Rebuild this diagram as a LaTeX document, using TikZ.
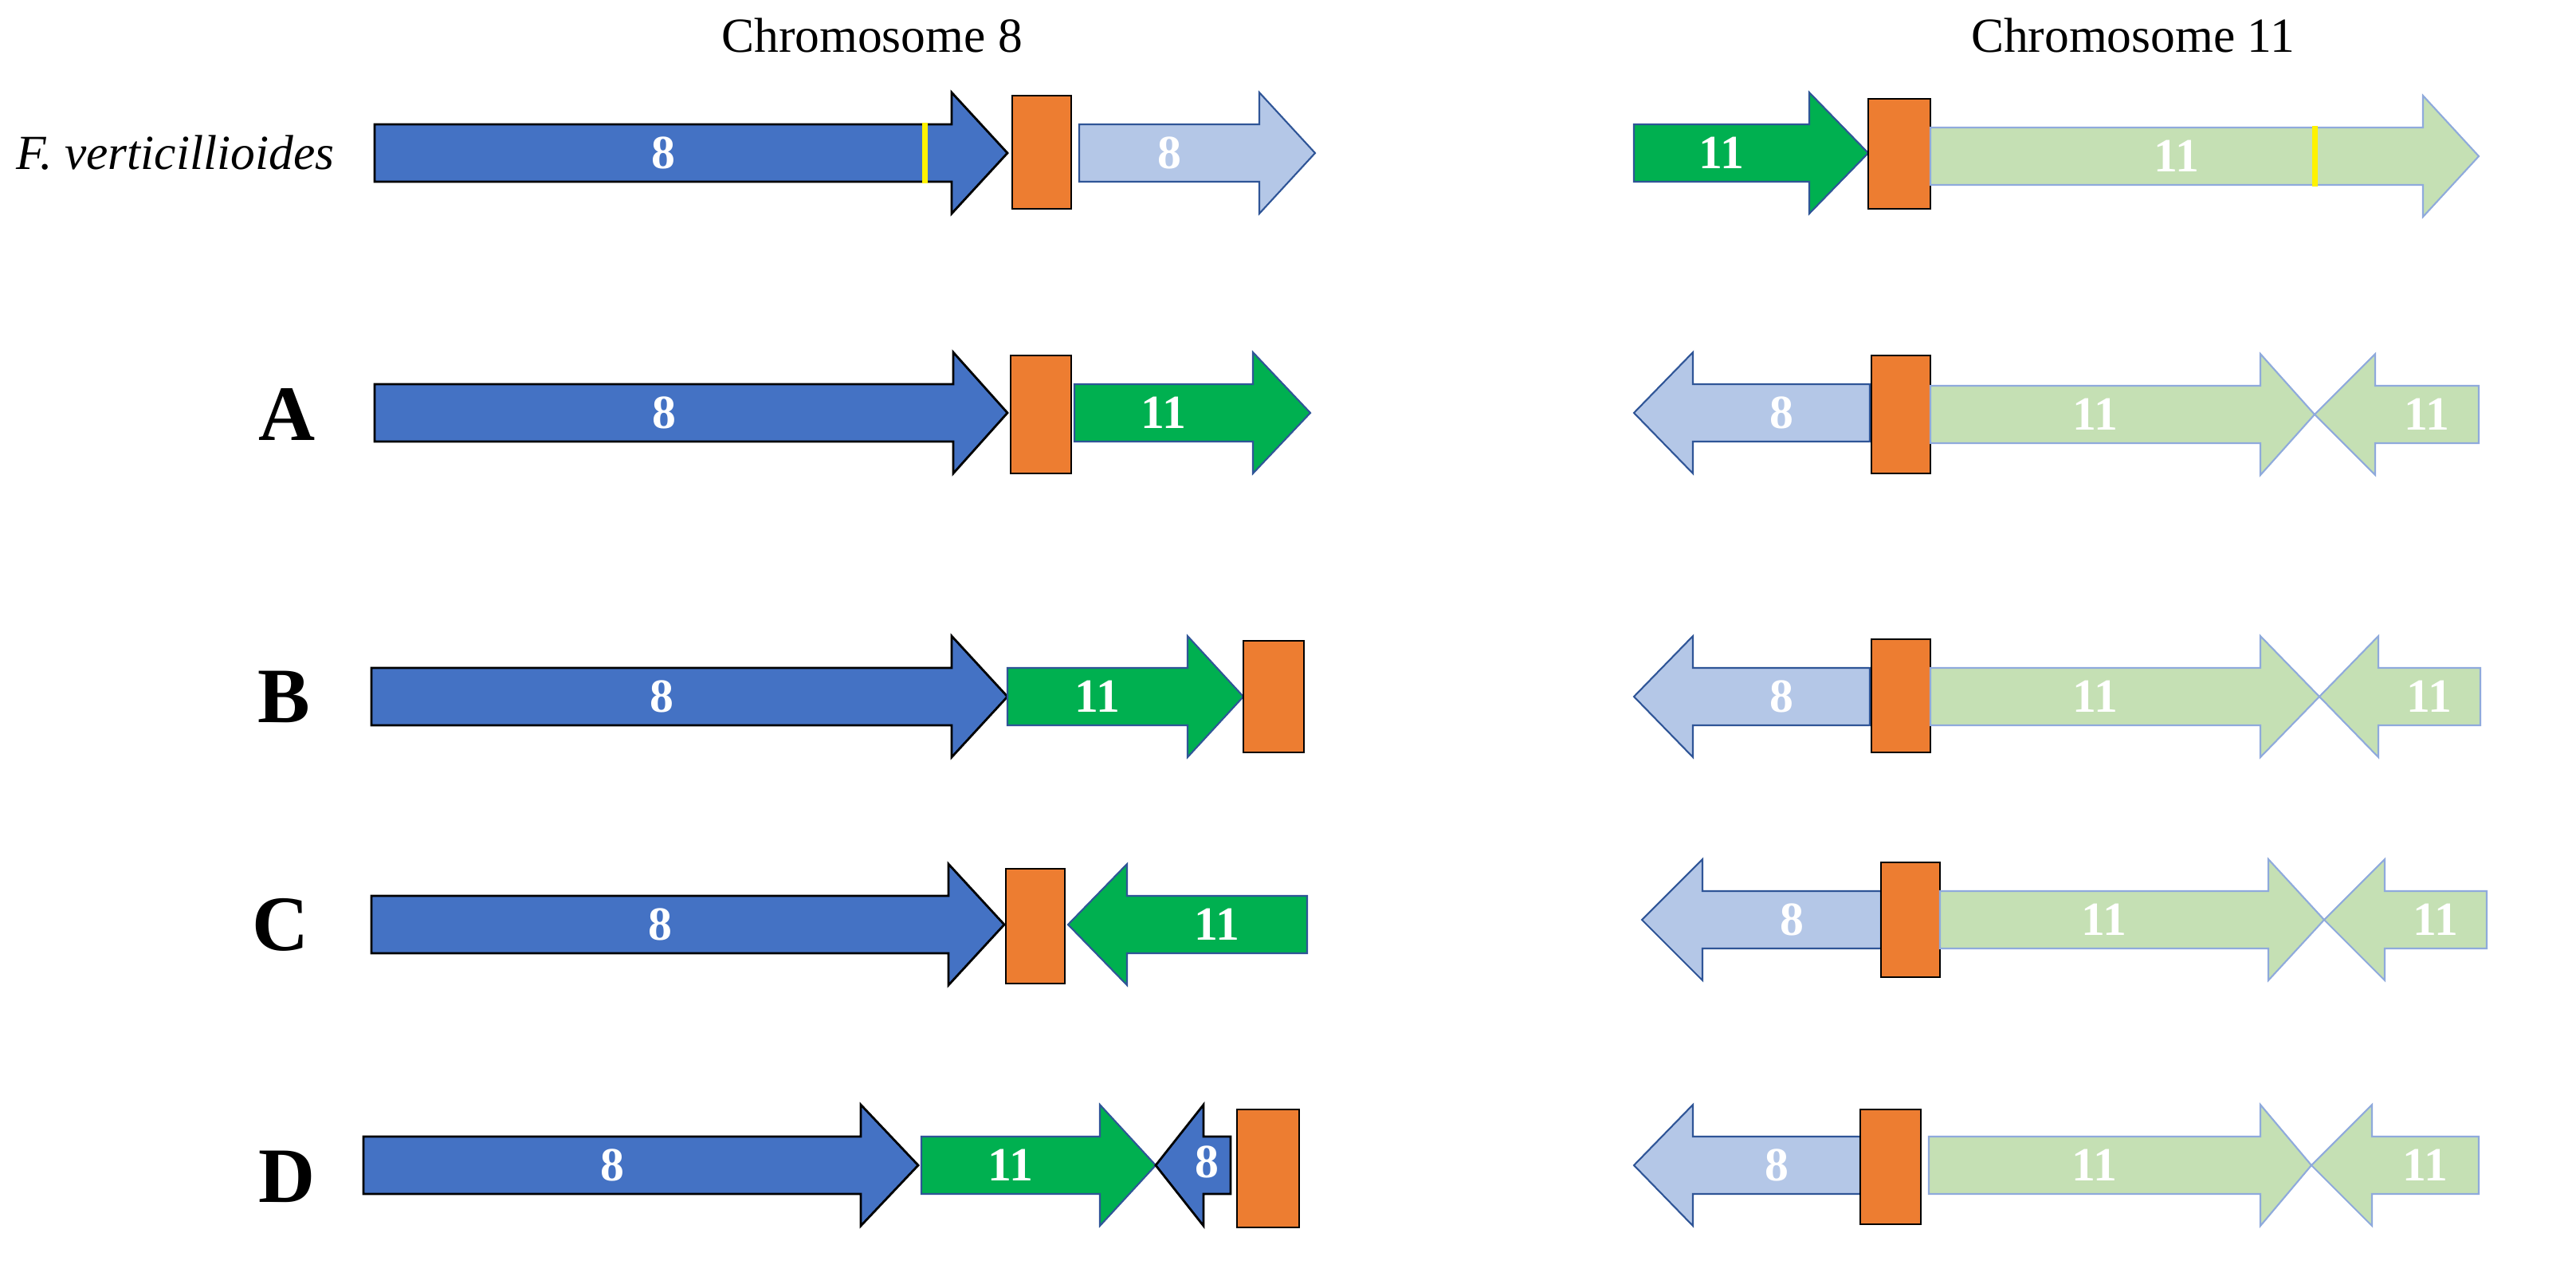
\documentclass[tikz,border=0pt]{standalone}
\usepackage{fontspec}
\setmainfont{Liberation Serif}
\definecolor{dblue}{HTML}{4472C4}
\definecolor{lblue}{HTML}{B4C7E7}
\definecolor{dgreen}{HTML}{00B050}
\definecolor{lgreen}{HTML}{C5E0B4}
\definecolor{orng}{HTML}{ED7D31}
\definecolor{edgeb}{HTML}{2F5597}
\definecolor{edgel}{HTML}{8FAADC}
\begin{document}
\begin{tikzpicture}[x=0.02cm,y=-0.02cm,
  darkb/.style={fill=dblue,draw=black,line width=0.8pt},
  lightb/.style={fill=lblue,draw=edgeb,line width=0.6pt},
  darkg/.style={fill=dgreen,draw=edgeb,line width=0.6pt},
  lightg/.style={fill=lgreen,draw=edgel,line width=0.6pt},
  box/.style={fill=orng,draw=black,line width=0.8pt},
  num/.style={text=white,font=\fontsize{17}{17}\selectfont\bfseries},
  lab/.style={font=\fontsize{28}{28}\selectfont\bfseries},
  ttl/.style={font=\fontsize{17.5}{17.5}\selectfont}]
\useasboundingbox (0,0) rectangle (1616,807.5);
% right arrow: #1 style, #2 x0, #3 body end, #4 tip, #5 yc, #6 label, #7 name
\newcommand{\rar}[7]{\draw[#1] (#2,#5-18) -- (#3,#5-18) -- (#3,#5-38) -- (#4,#5) -- (#3,#5+38) -- (#3,#5+18) -- (#2,#5+18) -- cycle;
  \node[num] (#7) at ({(#2+#3)/2},#5) {#6};}
% left arrow: #2 tip, #3 head base, #4 body end
\newcommand{\lar}[7]{\draw[#1] (#4,#5-18) -- (#3,#5-18) -- (#3,#5-38) -- (#2,#5) -- (#3,#5+38) -- (#3,#5+18) -- (#4,#5+18) -- cycle;
  \node[num] (#7) at ({(#3+#4)/2},#5) {#6};}
\newcommand{\obox}[5]{\node[box,minimum width={(#2-#1)*0.02cm},minimum height={(#4-#3)*0.02cm},inner sep=0pt] (#5) at ({(#1+#2)/2},{(#3+#4)/2}) {};}

\node[ttl] (t8) at (547,22) {Chromosome 8};
\node[ttl] (t11) at (1338,22) {Chromosome 11};
\node[font=\fontsize{17.5}{17.5}\selectfont\itshape] (fv) at (110,96) {F. verticillioides};
\node[lab] (A) at (180,260) {A};
\node[lab] (B) at (178,437) {B};
\node[lab] (C) at (176,580) {C};
\node[lab] (D) at (180,738) {D};

% Fv row
\rar{darkb}{235}{597}{632}{96}{8}{f1}
\draw[yellow,line width=2pt] (580,77) -- (580,115);
\obox{635}{672}{60}{131}{f2}
\rar{lightb}{677}{790}{825}{96}{8}{f3}
\rar{darkg}{1025}{1135}{1172}{96}{11}{f4}
\obox{1172}{1211}{62}{131}{f5}
\rar{lightg}{1211}{1520}{1555}{98}{11}{f6}
\draw[yellow,line width=2pt] (1452,79) -- (1452,117);

% A row
\rar{darkb}{235}{598}{632}{259}{8}{a1}
\obox{634}{672}{223}{297}{a2}
\rar{darkg}{674}{786}{822}{259}{11}{a3}
\lar{lightb}{1025}{1062}{1173}{259}{8}{a4}
\obox{1174}{1211}{223}{297}{a5}
\rar{lightg}{1211}{1418}{1452}{260}{11}{a6}
\lar{lightg}{1452}{1490}{1555}{260}{11}{a7}

% B row
\rar{darkb}{233}{597}{632}{437}{8}{b1}
\rar{darkg}{632}{745}{780}{437}{11}{b2}
\obox{780}{818}{402}{472}{b3}
\lar{lightb}{1025}{1062}{1173}{437}{8}{b4}
\obox{1174}{1211}{401}{472}{b5}
\rar{lightg}{1211}{1418}{1455}{437}{11}{b6}
\lar{lightg}{1455}{1492}{1556}{437}{11}{b7}

% C row
\rar{darkb}{233}{595}{630}{580}{8}{c1}
\obox{631}{668}{545}{617}{c2}
\lar{darkg}{670}{707}{820}{580}{11}{c3}
\lar{lightb}{1030}{1068}{1180}{577}{8}{c4}
\obox{1180}{1217}{541}{613}{c5}
\rar{lightg}{1217}{1423}{1458}{577}{11}{c6}
\lar{lightg}{1458}{1496}{1560}{577}{11}{c7}

% D row
\rar{darkb}{228}{540}{576}{731}{8}{d1}
\rar{darkg}{578}{690}{725}{731}{11}{d2}
\lar{darkb}{725}{755}{772}{731}{}{d3}
\node[num] at (757,729) {8};
\obox{776}{815}{696}{770}{d4}
\lar{lightb}{1025}{1062}{1167}{731}{8}{d5}
\obox{1167}{1205}{696}{768}{d6}
\rar{lightg}{1210}{1418}{1450}{731}{11}{d7}
\lar{lightg}{1450}{1488}{1555}{731}{11}{d8}
\end{tikzpicture}
\end{document}
